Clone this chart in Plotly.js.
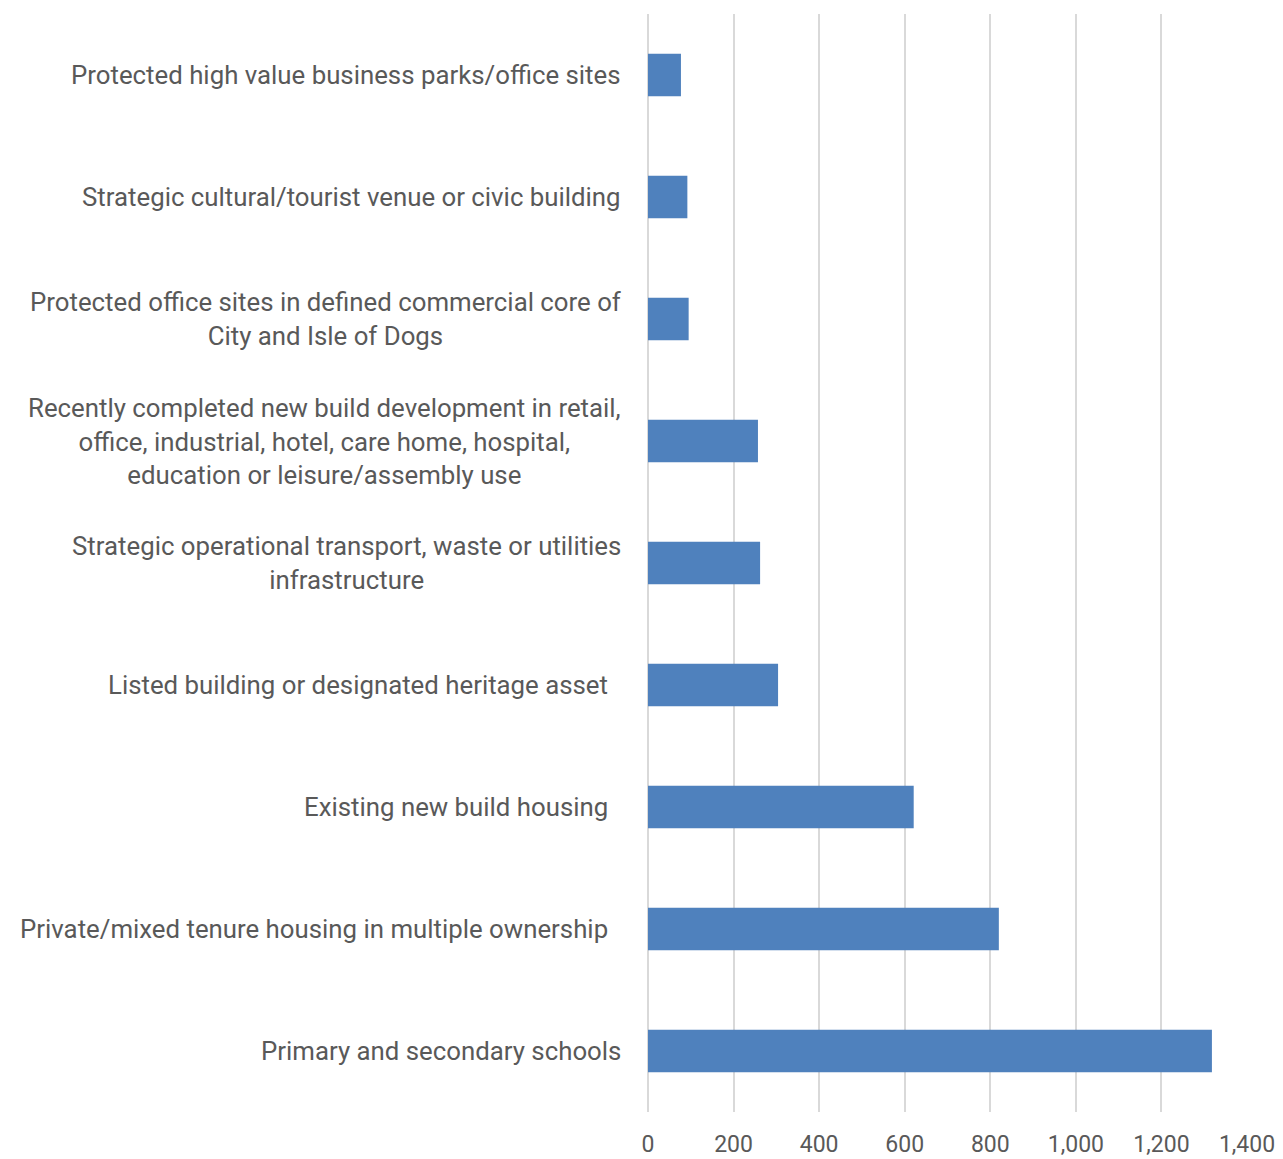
<!DOCTYPE html>
<html>
<head>
<meta charset="utf-8">
<script src="https://cdn.plot.ly/plotly-3.0.1.min.js"></script>
<style>html,body{margin:0;padding:0;background:#fff;}#chart{width:1283px;height:1159px;}</style>
</head>
<body>
<div id="chart"></div>
<script>
var categories = [
  "Protected high value business parks/office sites",
  "Strategic cultural/tourist venue or civic building",
  "Protected office sites in defined commercial core of<br>City and Isle of Dogs",
  "Recently completed new build development in retail,<br>office, industrial, hotel, care home, hospital,<br>education or leisure/assembly use",
  "Strategic operational transport, waste or utilities<br>infrastructure",
  "Listed building or designated heritage asset\u00a0\u00a0",
  "Existing new build housing\u00a0\u00a0",
  "Private/mixed tenure housing in multiple ownership\u00a0\u00a0",
  "Primary and secondary schools"
];
var values = [77, 92, 95, 257, 262, 304, 621, 820, 1318];
var tickVals = [0, 200, 400, 600, 800, 1000, 1200, 1400];
var tickText = ["0", "200", "400", "600", "800", "1,000", "1,200", "1,400"];

var FONT = "Roboto, 'Noto Sans', sans-serif";
var trace = {
  type: "bar",
  orientation: "h",
  x: values,
  y: categories,
  marker: {color: "#4f81bd", line: {width: 0}},
  hoverinfo: "none"
};
var annotations = categories.map(function (c) {
  return {
    x: 0, xref: "paper", y: c, yref: "y",
    xanchor: "right", yanchor: "middle", align: "center",
    xshift: -25, text: c, showarrow: false,
    font: {family: FONT, size: 25.8, color: "#595959"}
  };
});
var layout = {
  width: 1283, height: 1159,
  margin: {l: 648, r: 36, t: 14, b: 47, pad: 0},
  paper_bgcolor: "#fff", plot_bgcolor: "#fff",
  showlegend: false,
  bargap: 0.65,
  font: {family: FONT, size: 23, color: "#595959"},
  xaxis: {
    range: [0, 1400], tickvals: tickVals, ticktext: tickText,
    showgrid: true, gridcolor: "#d9d9d9", gridwidth: 2,
    zeroline: true, zerolinecolor: "#d9d9d9", zerolinewidth: 2,
    showline: false, ticks: "", ticklen: 0,
    ticklabelstandoff: 16,
    tickfont: {family: FONT, size: 23, color: "#595959"}
  },
  yaxis: {
    type: "category", autorange: "reversed",
    showticklabels: false, showgrid: false, zeroline: false, showline: false, ticks: ""
  },
  annotations: annotations
};
Plotly.newPlot("chart", [trace], layout, {staticPlot: true, displayModeBar: false});
</script>
</body>
</html>
